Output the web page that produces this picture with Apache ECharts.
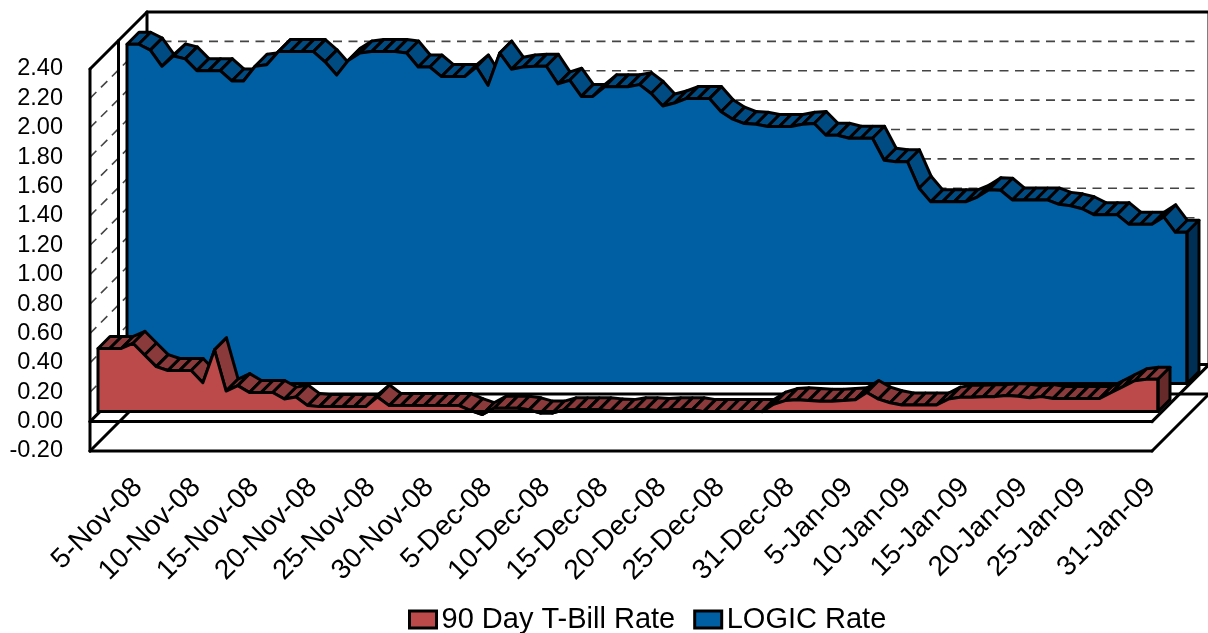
<!DOCTYPE html>
<html>
<head>
<meta charset="utf-8">
<title>90 Day T-Bill Rate and LOGIC Rate</title>
<script src="https://cdn.jsdelivr.net/npm/echarts@6/dist/echarts.min.js"></script>
<style>
  html, body { margin: 0; padding: 0; background: #fff; }
  #chart { width: 1208px; height: 633px; }
</style>
</head>
<body>
<div id="chart"></div>
<script>
  var dateLabels = ['5-Nov-08', '10-Nov-08', '15-Nov-08', '20-Nov-08', '25-Nov-08', '30-Nov-08',
    '5-Dec-08', '10-Dec-08', '15-Dec-08', '20-Dec-08', '25-Dec-08', '31-Dec-08',
    '5-Jan-09', '10-Jan-09', '15-Jan-09', '20-Jan-09', '25-Jan-09', '31-Jan-09'];

  // which daily point each date label sits on
  var dateLabelPoints = [0, 5, 10, 15, 20, 25, 30, 35, 40, 45, 50, 56, 61, 66, 71, 76, 81, 87];

  var billRate = [0.43, 0.43, 0.43, 0.465, 0.385, 0.306, 0.28, 0.28, 0.28, 0.197,
    0.42, 0.14, 0.177, 0.13, 0.13, 0.13, 0.086, 0.10, 0.041, 0.034,
    0.034, 0.034, 0.034, 0.034, 0.10, 0.041, 0.041, 0.041, 0.041, 0.041,
    0.041, 0.041, 0.007, -0.02, 0.023, 0.023, 0.023, 0.012, -0.01, -0.01,
    0.012, 0.012, 0.012, 0.012, 0.005, 0, 0.012, 0.012, 0.007, 0.012,
    0.012, 0.012, 0, 0, 0, 0, 0, 0, 0.05, 0.075,
    0.08, 0.075, 0.07, 0.07, 0.075, 0.08, 0.13, 0.085, 0.06, 0.045,
    0.045, 0.045, 0.045, 0.085, 0.098, 0.098, 0.102, 0.102, 0.11, 0.105,
    0.095, 0.102, 0.09, 0.09, 0.09, 0.09, 0.09, 0.13, 0.17, 0.21,
    0.22, 0.22];

  var logicRate = [2.31, 2.31, 2.27, 2.16, 2.23, 2.21, 2.13, 2.13, 2.13, 2.06,
    2.06, 2.16, 2.17, 2.26, 2.26, 2.26, 2.26, 2.19, 2.10, 2.20,
    2.25, 2.26, 2.26, 2.26, 2.25, 2.155, 2.155, 2.09, 2.09, 2.09,
    2.155, 2.03, 2.25, 2.14, 2.155, 2.16, 2.16, 2.04, 2.065, 1.955,
    1.955, 2.02, 2.02, 2.02, 2.035, 1.975, 1.89, 1.91, 1.94, 1.94,
    1.94, 1.85, 1.80, 1.77, 1.765, 1.75, 1.75, 1.75, 1.765, 1.77,
    1.69, 1.69, 1.67, 1.67, 1.67, 1.52, 1.51, 1.51, 1.33, 1.237,
    1.237, 1.237, 1.237, 1.27, 1.32, 1.316, 1.25, 1.25, 1.25, 1.25,
    1.22, 1.21, 1.19, 1.15, 1.15, 1.15, 1.085, 1.085, 1.085, 1.135,
    1.03, 1.03];

  var gridValues = [0, 0.2, 0.4, 0.6, 0.8, 1.0, 1.2, 1.4, 1.6, 1.8, 2.0, 2.2];

  var FONT = '"Liberation Sans", Arial, sans-serif';
  var WALL_DEPTH = 57;
  var RIBBON_DEPTH = 12;
  var LINE_W = 3;
  var EDGE = { stroke: '#000', lineWidth: LINE_W, fill: null, lineJoin: 'round', lineCap: 'round' };
  var indexes = logicRate.map(function (v, i) { return i; });
  var labelSlots = indexes.map(function (i) {
    var at = dateLabelPoints.indexOf(i);
    return at < 0 ? '' : dateLabels[at];
  });

  function deep(p, d) {
    return [p[0] + d, p[1] - d];
  }

  function line(a, b, style) {
    return { type: 'line', shape: { x1: a[0], y1: a[1], x2: b[0], y2: b[1] }, style: style };
  }

  // walls and floor planes of the 3d box, hung on the frame axis
  function renderFrame(params, api) {
    if (params.dataIndex > 0) return;
    var kids = [];
    var dash = { stroke: '#444', lineWidth: 1.6, lineDash: [9, 6.5] };
    gridValues.forEach(function (v) {
      var a = api.coord([0, v]);
      var b = deep(a, WALL_DEPTH);
      var c = [api.coord([1, v])[0] + WALL_DEPTH - 9, b[1]];
      kids.push(line(a, b, dash));
      kids.push(line(b, c, dash));
    });
    var lowL = api.coord([0, -0.2]), lowR = api.coord([1, -0.2]);
    var zeroL = api.coord([0, 0]), zeroR = api.coord([1, 0]);
    var topL = api.coord([0, 2.4]), topR = api.coord([1, 2.4]);
    var pairs = [
      [topL, lowL],
      [deep(topL, WALL_DEPTH / 2), deep(zeroL, WALL_DEPTH / 2)],
      [deep(topL, WALL_DEPTH), deep(lowL, WALL_DEPTH)],
      [deep(topR, WALL_DEPTH), deep(zeroR, WALL_DEPTH)],
      [topL, deep(topL, WALL_DEPTH)],
      [deep(topL, WALL_DEPTH), deep(topR, WALL_DEPTH)],
      [lowL, lowR],
      [lowR, deep(lowR, WALL_DEPTH)],
      [lowL, deep(lowL, WALL_DEPTH)],
      [deep(lowL, WALL_DEPTH), deep(lowR, WALL_DEPTH)],
      [zeroL, zeroR],
      [zeroR, deep(zeroR, WALL_DEPTH)],
      [zeroL, deep(zeroL, WALL_DEPTH)],
      [deep(zeroL, WALL_DEPTH), deep(zeroR, WALL_DEPTH)]
    ];
    pairs.forEach(function (p) {
      kids.push(line(p[0], p[1], EDGE));
    });
    return { type: 'group', children: kids };
  }

  // the slanted top surface, one quad per step
  function ribbon(values, fill) {
    return function (params, api) {
      var i = params.dataIndex;
      if (i >= values.length - 1) return;
      var a = api.coord([i, values[i]]);
      var b = api.coord([i + 1, values[i + 1]]);
      return {
        type: 'polygon',
        shape: { points: [a, b, deep(b, RIBBON_DEPTH), deep(a, RIBBON_DEPTH)] },
        style: { fill: fill, stroke: '#000', lineWidth: LINE_W, lineJoin: 'round' }
      };
    };
  }

  // right hand face plus the bottom and end edges of the front face
  function sideFace(values, fill) {
    return function (params, api) {
      if (params.dataIndex > 0) return;
      var last = values.length - 1;
      var a = api.coord([last, values[last]]);
      var b = api.coord([last, 0]);
      var c = api.coord([0, 0]);
      var d = api.coord([0, values[0]]);
      return {
        type: 'group',
        children: [
          {
            type: 'polygon',
            shape: { points: [a, b, deep(b, RIBBON_DEPTH), deep(a, RIBBON_DEPTH)] },
            style: { fill: fill, stroke: '#000', lineWidth: LINE_W, lineJoin: 'round' }
          },
          { type: 'polyline', shape: { points: [d, c, b, a] }, style: EDGE }
        ]
      };
    };
  }

  function customSeries(renderItem, axis, z) {
    return {
      type: 'custom',
      renderItem: renderItem,
      xAxisIndex: axis,
      yAxisIndex: axis,
      data: indexes,
      encode: { x: 0 },
      silent: true,
      clip: false,
      z: z
    };
  }

  function areaSeries(name, values, color, axis, z) {
    return {
      name: name,
      type: 'line',
      data: values,
      xAxisIndex: axis,
      yAxisIndex: axis,
      showSymbol: false,
      animation: false,
      clip: false,
      itemStyle: { color: color },
      lineStyle: { color: '#000', width: LINE_W, join: 'round' },
      areaStyle: { color: color, opacity: 1 },
      z: z
    };
  }

  function hiddenX(gridIndex) {
    return { type: 'category', gridIndex: gridIndex, data: indexes, boundaryGap: false, show: false };
  }

  function hiddenY(gridIndex) {
    return { type: 'value', gridIndex: gridIndex, min: -0.2, max: 2.4, interval: 0.2, show: false };
  }

  var chart = echarts.init(document.getElementById('chart'), null, { renderer: 'canvas' });
  chart.setOption({
    animation: false,
    backgroundColor: '#fff',
    grid: [
      { left: 90, top: 69, width: 1062, height: 382 },  // frame and y labels
      { left: 138, top: 69, width: 1060, height: 382 }, // date labels
      { left: 98, top: 59, width: 1060, height: 382 },  // t-bill plane
      { left: 127, top: 31, width: 1060, height: 382 }  // logic plane
    ],
    xAxis: [
      { type: 'category', gridIndex: 0, data: ['a', 'b'], boundaryGap: false, show: false },
      {
        type: 'category',
        gridIndex: 1,
        data: labelSlots,
        boundaryGap: false,
        axisLine: { show: false },
        axisTick: { show: false },
        axisLabel: {
          interval: function (i) { return dateLabelPoints.indexOf(i) >= 0; },
          rotate: 45,
          margin: 32,
          color: '#000',
          fontSize: 28,
          fontFamily: FONT,
          hideOverlap: false
        }
      },
      hiddenX(2),
      hiddenX(3)
    ],
    yAxis: [
      {
        type: 'value',
        gridIndex: 0,
        min: -0.2,
        max: 2.4,
        interval: 0.2,
        axisLine: { show: false },
        axisTick: { show: false },
        splitLine: { show: false },
        axisLabel: {
          margin: 27,
          padding: [2, 0, 0, 0],
          color: '#000',
          fontSize: 23.5,
          fontFamily: FONT,
          formatter: function (v) { return v.toFixed(2); }
        }
      },
      hiddenY(1),
      hiddenY(2),
      hiddenY(3)
    ],
    legend: {
      left: 403,
      top: 600,
      itemWidth: 27,
      itemHeight: 17,
      itemGap: 18,
      textStyle: { color: '#000', fontSize: 29, fontFamily: FONT },
      data: [
        { name: '90 Day T-Bill Rate', icon: 'rect', itemStyle: { color: '#BC4A4A', borderColor: '#000', borderWidth: 3 } },
        { name: 'LOGIC Rate', icon: 'rect', itemStyle: { color: '#005FA3', borderColor: '#000', borderWidth: 3 } }
      ]
    },
    series: [
      customSeries(renderFrame, 0, 1),
      customSeries(ribbon(logicRate, '#004C82'), 3, 2),
      areaSeries('LOGIC Rate', logicRate, '#005FA3', 3, 3),
      customSeries(sideFace(logicRate, '#002F55'), 3, 4),
      customSeries(ribbon(billRate, '#8A3A3A'), 2, 5),
      areaSeries('90 Day T-Bill Rate', billRate, '#BC4A4A', 2, 6),
      customSeries(sideFace(billRate, '#662A2A'), 2, 7)
    ]
  });
</script>
</body>
</html>
